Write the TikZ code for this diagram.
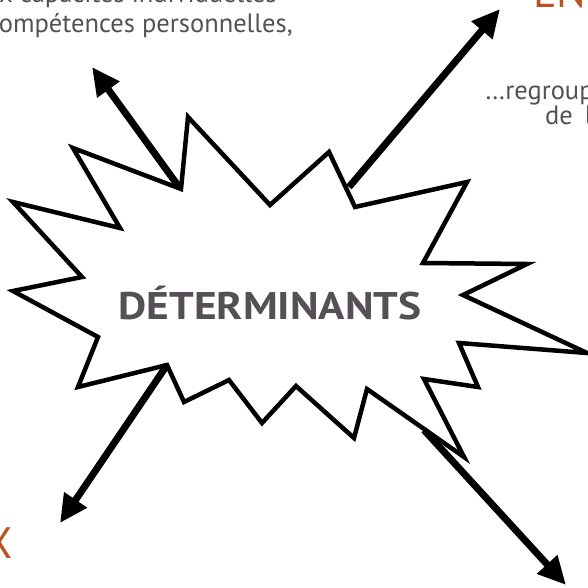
\documentclass[tikz,border=0pt]{standalone}
\usepackage{fontspec}
\setmainfont{PT Sans}
\usetikzlibrary{arrows.meta}
\definecolor{txtgrey}{RGB}{85,80,86}
\definecolor{headorange}{RGB}{188,82,36}
\tikzset{
  burst/.style={draw=black, line width=4.5pt, line join=miter, fill=white},
  bigarrow/.style={line width=7pt, -{Triangle[length=28pt,width=26pt]}},
  bodytext/.style={text=txtgrey, font=\fontsize{26.5}{30}\selectfont, inner sep=0pt},
  headtext/.style={text=headorange, font=\fontsize{44}{50}\selectfont, inner sep=0pt},
}
\begin{document}
\begin{tikzpicture}[x=1pt,y=-1pt]
   \useasboundingbox (0,0) rectangle (588,588);
   \clip (0,0) rectangle (588,588);
   \node[bodytext, anchor=base east] (indiv) at (277,3) {aux capacités individuelles};
   \node[bodytext, anchor=base east] (comp) at (293,33) {compétences personnelles,};
   \node[bodytext, anchor=base west] (regroup) at (485,100) {…regroupent};
   \node[bodytext, anchor=base west] (dela) at (545,125) {de\hspace{0.45em}la};
   \node[headtext, anchor=base west] (env) at (533,8) {EN};
   \node[headtext, anchor=base east] (aux) at (13,558) {X};
   % starburst
   \draw[burst] (181,189) -- (188,117) -- (270,205) -- (329,152) -- (355,207)
      -- (467,182) -- (423,263) -- (527,264) -- (463,295) -- (587,353)
      -- (459,343) -- (478,387) -- (424,379) -- (464,457) -- (367,389)
      -- (354,438) -- (296,386) -- (262,423) -- (229,380) -- (184,402)
      -- (167,365) -- (78,387) -- (98,337) -- (13,291) -- (82,277)
      -- (13,202) -- (120,228) -- (73,148) -- cycle;
   \node[text=txtgrey, font=\bfseries\fontsize{38.5}{40}\selectfont\addfontfeature{FakeStretch=1.13}, inner sep=0pt, anchor=base] (det) at (270,319) {DÉTERMINANTS};
   \coordinate (tlfoot) at (179,187);
   \coordinate (tlhead) at (92,67);
   \coordinate (trfoot) at (349,187);
   \coordinate (trhead) at (500,9);
   \coordinate (blfoot) at (167,365);
   \coordinate (blhead) at (60,523);
   \coordinate (brfoot) at (424,430);
   \coordinate (brhead) at (566,585);
   \draw[bigarrow] (tlfoot) -- (tlhead);
   \draw[bigarrow] (trfoot) -- (trhead);
   \draw[bigarrow] (blfoot) -- (blhead);
   \draw[bigarrow] (brfoot) -- (brhead);
\end{tikzpicture}
\end{document}
